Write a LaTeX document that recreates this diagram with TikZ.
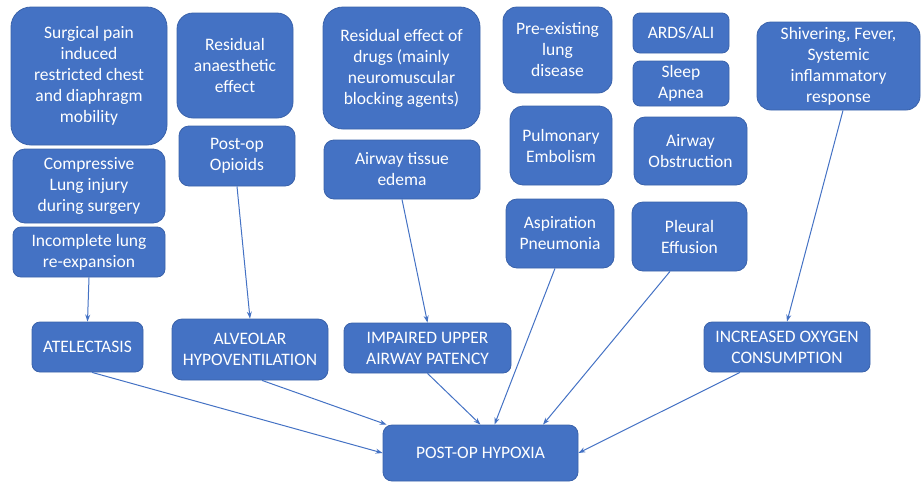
\documentclass[tikz,border=0pt]{standalone}
\usepackage{fontspec}
\setmainfont{Carlito}
\usepackage{tikz}
\usepackage{xcolor}
\usetikzlibrary{positioning,shapes,arrows.meta}
\definecolor{boxblue}{HTML}{4472C4}
\definecolor{edgeblue}{HTML}{3A62AA}

\begin{document}
\begin{tikzpicture}[x=1pt,y=-1pt,
  box/.style={draw=edgeblue, line width=0.8pt, fill=boxblue, text=white, align=center,
    rounded corners=#1, font=\fontsize{17.5}{21}\selectfont},
  box/.default=8pt,
  link/.style={draw=boxblue, line width=1pt, -{Stealth[length=7pt,width=5pt]}}]
\tikzstyle{every node}+=[inner sep=0pt]
\useasboundingbox (0,0) rectangle (921,483);
% causes
\node[box=20pt, minimum width=156pt, minimum height=138pt] (pain) at (89,76) {Surgical pain\\induced\\restricted chest\\and diaphragm\\mobility};
\node[box=12pt, minimum width=152pt, minimum height=74pt] (compress) at (89,186) {Compressive\\Lung injury\\during surgery};
\node[box, minimum width=152pt, minimum height=50pt] (incomplete) at (89,252) {Incomplete lung\\re-expansion};
\node[box=16pt, minimum width=116pt, minimum height=105pt] (anaest) at (235,65.5) {Residual\\anaesthetic\\effect};
\node[box=10pt, minimum width=116pt, minimum height=60pt] (opioids) at (237,156) {Post-op\\Opioids};
\node[box=20pt, minimum width=157pt, minimum height=122pt] (drugs) at (401.5,68) {Residual effect of\\drugs (mainly\\neuromuscular\\blocking agents)};
\node[box=10pt, minimum width=156pt, minimum height=59pt] (edema) at (402,169.5) {Airway tissue\\edema};
\node[box=14pt, minimum width=109pt, minimum height=86pt] (lungdis) at (557.5,50) {Pre-existing\\lung\\disease};
\node[box=13pt, minimum width=102pt, minimum height=79pt] (embol) at (561,145.5) {Pulmonary\\Embolism};
\node[box=11pt, minimum width=108pt, minimum height=69pt] (aspir) at (560,233.5) {Aspiration\\Pneumonia};
\node[box=7pt, minimum width=96pt, minimum height=40pt] (ards) at (681,33) {ARDS/ALI};
\node[box=7pt, minimum width=96pt, minimum height=45pt] (apnea) at (681,83.5) {Sleep\\Apnea};
\node[box=11pt, minimum width=113pt, minimum height=68pt] (obstr) at (690.5,151) {Airway\\Obstruction};
\node[box=11pt, minimum width=115pt, minimum height=69pt] (pleural) at (689.5,236.5) {Pleural\\Effusion};
\node[box=14pt, minimum width=163pt, minimum height=88pt] (shiver) at (838.5,66) {Shivering, Fever,\\Systemic\\inflammatory\\response};
% mechanisms
\node[box, minimum width=111pt, minimum height=50pt] (atel) at (87.5,347) {ATELECTASIS};
\node[box=10pt, minimum width=156pt, minimum height=61pt] (alveolar) at (250,349.5) {ALVEOLAR\\HYPOVENTILATION};
\node[box, minimum width=167pt, minimum height=50pt] (impaired) at (427.5,348) {IMPAIRED UPPER\\AIRWAY PATENCY};
\node[box, minimum width=166pt, minimum height=50pt] (oxygen) at (787,347) {INCREASED OXYGEN\\CONSUMPTION};
\node[box=9pt, minimum width=195pt, minimum height=56pt] (hypoxia) at (480.5,453) {POST-OP HYPOXIA};
% arrows
\draw[link] (incomplete.south) -- (atel.north);
\draw[link] (opioids.south) -- (alveolar.north);
\draw[link] (edema.south) -- (impaired.north);
\draw[link] ([xshift=4.5pt]shiver.south) -- (oxygen.north);
\draw[link] ([xshift=-5pt]aspir.south) -- ([xshift=14pt]hypoxia.north);
\draw[link] ([xshift=-19.5pt]pleural.south) -- ([xshift=62.5pt]hypoxia.north);
\draw[link] ([xshift=4.5pt]atel.south) -- (hypoxia.west);
\draw[link] ([xshift=12pt]alveolar.south) -- ([xshift=4pt]hypoxia.north west);
\draw[link] (impaired.south) -- (hypoxia.north);
\draw[link] ([xshift=-47pt]oxygen.south) -- (hypoxia.east);
\end{tikzpicture}
\end{document}
